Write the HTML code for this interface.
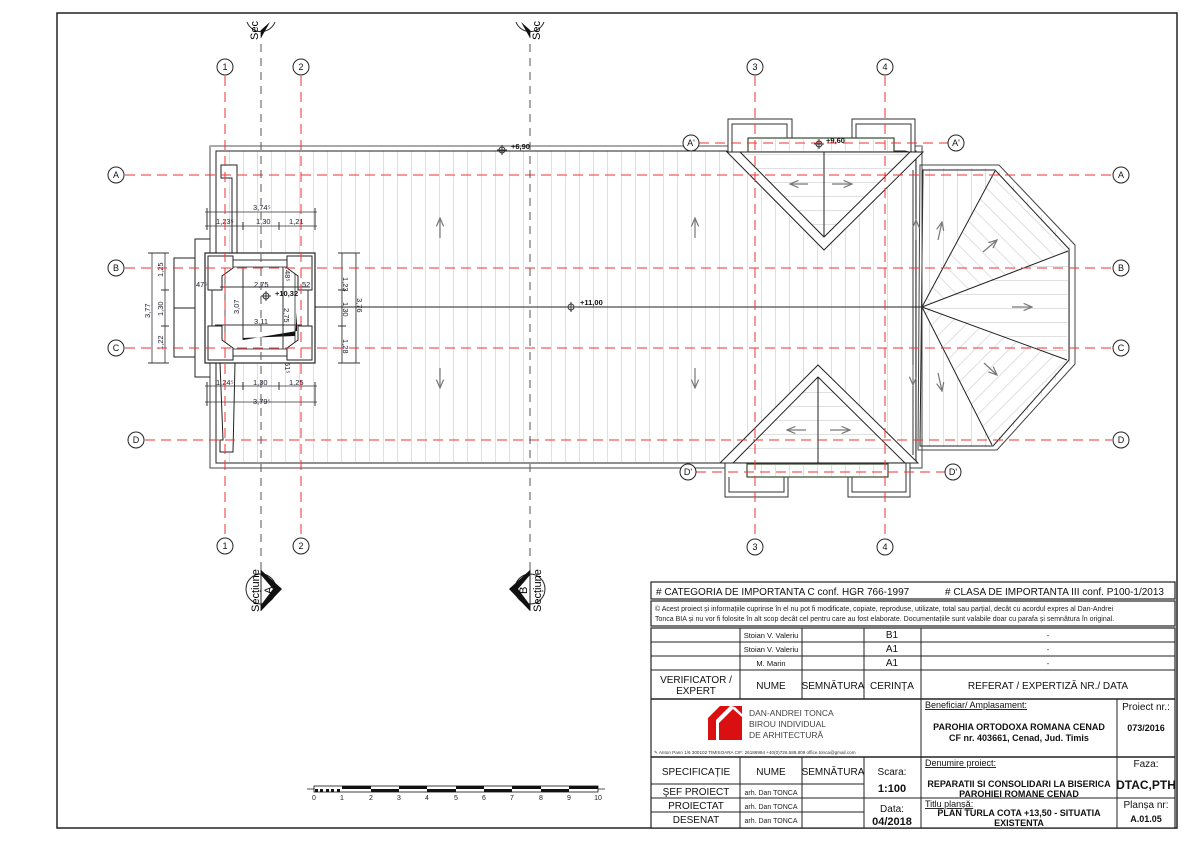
<!DOCTYPE html>
<html><head><meta charset="utf-8"><style>
html,body{margin:0;padding:0;background:#fff}
svg{display:block}
text{font-family:"Liberation Sans",sans-serif}
</style></head><body>
<svg width="1190" height="841" viewBox="0 0 1190 841" xmlns="http://www.w3.org/2000/svg">
<defs>
<pattern id="vh" width="14" height="10" patternUnits="userSpaceOnUse" x="5"><line x1="0.5" y1="0" x2="0.5" y2="10" stroke="#e0e0e0" stroke-width="1"/></pattern>
<pattern id="hh" width="10" height="14" patternUnits="userSpaceOnUse"><line x1="0" y1="0.5" x2="10" y2="0.5" stroke="#e0e0e0" stroke-width="1"/></pattern>
<pattern id="dh" width="12" height="12" patternUnits="userSpaceOnUse" patternTransform="rotate(45)"><line x1="0.5" y1="0" x2="0.5" y2="12" stroke="#e0e0e0" stroke-width="1"/></pattern>
<pattern id="dh2" width="12" height="12" patternUnits="userSpaceOnUse" patternTransform="rotate(-45)"><line x1="0.5" y1="0" x2="0.5" y2="12" stroke="#e0e0e0" stroke-width="1"/></pattern>
<marker id="ar" markerWidth="8" markerHeight="8" refX="7" refY="4" orient="auto"><path d="M0,1 L7,4 L0,7" fill="none" stroke="#777" stroke-width="1"/></marker>
</defs>

<rect x="57" y="13" width="1120" height="815" fill="none" stroke="#222" stroke-width="1.5"/>

<rect x="222" y="151" width="698" height="311" fill="url(#vh)"/>
<polygon points="920,168 997,168 1072,247 1072,362 995,447 920,447" fill="url(#vh)"/>
<polygon points="922,307 995,171 1068,251" fill="#fff"/>
<polygon points="922,307 995,171 1068,251" fill="url(#dh2)"/>
<polygon points="922,307 1067,360 992,445" fill="#fff"/>
<polygon points="922,307 1067,360 992,445" fill="url(#dh)"/>
<polygon points="922,307 1068,251 1067,360" fill="#fff"/>
<polygon points="922,307 1068,251 1067,360" fill="url(#hh)"/>
<polygon points="920,165 999,165 1075,245 1075,364 997,450 918,450" fill="none" stroke="#444" stroke-width="1"/>
<polygon points="923,170 995,170 1069,249 1069,360 993,446 920,446" fill="none" stroke="#222" stroke-width="1"/>
<g stroke="#222" stroke-width="1"><line x1="922" y1="307" x2="995" y2="171"/><line x1="922" y1="307" x2="1068" y2="251"/><line x1="922" y1="307" x2="1067" y2="360"/><line x1="922" y1="307" x2="992" y2="445"/></g>

<rect x="210" y="146" width="712" height="322" fill="none" stroke="#444" stroke-width="1"/>
<rect x="216" y="151" width="700" height="312" fill="none" stroke="#222" stroke-width="1"/>
<line x1="210" y1="146" x2="922" y2="146" stroke="#aaa" stroke-width="2"/>
<line x1="913" y1="170" x2="913" y2="455" stroke="#333" stroke-width="1"/>

<g fill="#fff" stroke="#333" stroke-width="1">
<path d="M728,152 V119 H792 V152" /><path d="M732,152 V124 H787 V138"/>
<path d="M852,138 V119 H915 V152"/><path d="M856,138 V124 H911 V152"/>
<path d="M725,463 V497 H788 V476"/><path d="M729,477 V492 H784 V476"/>
<path d="M848,476 V497 H910 V463"/><path d="M852,477 V492 H906 V463"/>
</g>
<rect x="748" y="138" width="146" height="14" fill="#fff" stroke="#354a2a" stroke-width="1.2"/>
<rect x="747" y="464" width="141" height="13" fill="#fff" stroke="#354a2a" stroke-width="1.2"/>
<rect x="749" y="139" width="144" height="12" fill="url(#vh)"/>
<rect x="748" y="465" width="139" height="11" fill="url(#vh)"/>

<polygon points="727,152 923,152 824,250" fill="#fff" stroke="#222" stroke-width="1"/>
<polygon points="740,152 910,152 824,237" fill="url(#hh)" stroke="#222" stroke-width="1"/>
<line x1="824" y1="152" x2="824" y2="237" stroke="#222"/>
<polygon points="720,463 918,463 818,365" fill="#fff" stroke="#222" stroke-width="1"/>
<polygon points="733,463 905,463 818,377" fill="url(#hh)" stroke="#222" stroke-width="1"/>
<line x1="818" y1="377" x2="818" y2="463" stroke="#222"/>

<line x1="315" y1="307" x2="922" y2="307" stroke="#222" stroke-width="1"/>

<g stroke="#777" stroke-width="1.2" marker-end="url(#ar)">
<line x1="440" y1="238" x2="440" y2="218"/><line x1="440" y1="368" x2="440" y2="388"/>
<line x1="695" y1="238" x2="695" y2="218"/><line x1="695" y1="368" x2="695" y2="388"/>
<line x1="916" y1="240" x2="916" y2="220"/><line x1="913" y1="365" x2="913" y2="385"/>
<line x1="808" y1="184" x2="790" y2="184"/><line x1="832" y1="184" x2="852" y2="184"/>
<line x1="806" y1="430" x2="787" y2="430"/><line x1="830" y1="430" x2="850" y2="430"/>
<line x1="938" y1="240" x2="942" y2="222"/><line x1="983" y1="252" x2="997" y2="240"/>
<line x1="1012" y1="307" x2="1032" y2="307"/><line x1="984" y1="363" x2="997" y2="375"/>
<line x1="938" y1="373" x2="942" y2="391"/>
<line x1="184" y1="290" x2="184" y2="270"/><line x1="184" y1="325" x2="184" y2="345"/>
</g>

<rect x="174" y="258" width="21" height="99" fill="#fff" stroke="#222"/>
<line x1="174" y1="308" x2="195" y2="308" stroke="#222"/>
<path d="M210,239 H195 V377 H210" fill="none" stroke="#222"/>
<path d="M221,165 H237 V253 H232 V178 H221 Z" fill="#fff" stroke="#222"/>
<path d="M220,363 H235 L233,452 H220 V440 H223 Z" fill="#fff" stroke="#222"/>
<rect x="205" y="253" width="110" height="110" fill="#fff" stroke="#222" stroke-width="1.2"/>
<rect x="212" y="260" width="96" height="96" fill="none" stroke="#333"/>
<rect x="225" y="267" width="70" height="82" fill="none" stroke="#555"/>
<g fill="#fff" stroke="#222">
<polygon points="208,256 233,256 233,268 222,276 222,290 208,290"/>
<polygon points="312,256 287,256 287,268 298,276 298,290 312,290"/>
<polygon points="208,360 233,360 233,348 222,340 222,326 208,326"/>
<polygon points="312,360 287,360 287,348 298,340 298,326 312,326"/>
</g>
<polygon points="243,340 297,331 297,312 295,336 243,338" fill="#111"/>
<line x1="243" y1="267" x2="243" y2="340" stroke="#333"/>
<line x1="220" y1="287" x2="310" y2="287" stroke="#333"/>
<line x1="215" y1="325" x2="302" y2="325" stroke="#333"/>
<line x1="283" y1="267" x2="283" y2="349" stroke="#333"/>

<g stroke="#333" stroke-width="0.8">
<line x1="205" y1="212" x2="317" y2="212"/><line x1="205" y1="226" x2="317" y2="226"/>
<line x1="205" y1="386" x2="317" y2="386"/><line x1="205" y1="402" x2="317" y2="402"/>
<line x1="152" y1="253" x2="152" y2="363"/><line x1="165" y1="253" x2="165" y2="363"/>
<line x1="342" y1="253" x2="342" y2="363"/><line x1="356" y1="253" x2="356" y2="363"/>
<g stroke-width="1"><line x1="207" y1="208" x2="207" y2="230"/><line x1="315" y1="208" x2="315" y2="230"/><line x1="243" y1="222" x2="243" y2="230"/><line x1="279" y1="222" x2="279" y2="230"/>
<line x1="207" y1="382" x2="207" y2="406"/><line x1="315" y1="382" x2="315" y2="406"/><line x1="243" y1="382" x2="243" y2="390"/><line x1="279" y1="382" x2="279" y2="390"/>
<line x1="148" y1="253" x2="169" y2="253"/><line x1="148" y1="363" x2="169" y2="363"/><line x1="161" y1="290" x2="169" y2="290"/><line x1="161" y1="326" x2="169" y2="326"/>
<line x1="338" y1="253" x2="360" y2="253"/><line x1="338" y1="363" x2="360" y2="363"/><line x1="338" y1="290" x2="346" y2="290"/><line x1="338" y1="326" x2="346" y2="326"/></g>
</g>
<g font-size="7.5" fill="#223">
<text x="253" y="210">3,74⁵</text><text x="216" y="224">1,23⁵</text><text x="256" y="224">1,30</text><text x="289" y="224">1,21</text>
<text x="216" y="385">1,24⁵</text><text x="253" y="385">1,30</text><text x="289" y="385">1,25</text><text x="253" y="404">3,79⁵</text>
<text x="196" y="287">47⁵</text><text x="254" y="287">2,75</text><text x="302" y="287">52</text><text x="254" y="324">3,11</text>
<text transform="translate(150,318) rotate(-90)">3,77</text>
<text transform="translate(163,277) rotate(-90)">1,25</text><text transform="translate(163,316) rotate(-90)">1,30</text><text transform="translate(163,350) rotate(-90)">1,22</text>
<text transform="translate(343,277) rotate(90)">1,23</text><text transform="translate(343,302) rotate(90)">1,30</text><text transform="translate(343,339) rotate(90)">1,28</text>
<text transform="translate(357,298) rotate(90)">3,76</text>
<text transform="translate(239,314) rotate(-90)">3,07</text><text transform="translate(284,308) rotate(90)">2,75</text>
<text transform="translate(285,270) rotate(90)">48⁵</text><text transform="translate(285,362) rotate(90)">51⁵</text>
</g>

<g stroke="#333" fill="none"><circle cx="266" cy="296" r="3"/><line x1="261" y1="296" x2="271" y2="296"/><line x1="266" y1="291" x2="266" y2="301"/>
<circle cx="502" cy="150" r="3"/><line x1="497" y1="150" x2="507" y2="150"/><line x1="502" y1="145" x2="502" y2="155"/>
<circle cx="571" cy="307" r="3"/><line x1="566" y1="307" x2="576" y2="307"/><line x1="571" y1="302" x2="571" y2="312"/>
<circle cx="819" cy="144" r="3"/><line x1="814" y1="144" x2="824" y2="144"/><line x1="819" y1="139" x2="819" y2="149"/></g>
<g font-size="7.5" font-weight="bold" fill="#111"><text x="275" y="296">+10,32</text><text x="511" y="149">+6,90</text><text x="580" y="305">+11,00</text><text x="826" y="143">+9,60</text></g>

<g stroke="#e33" stroke-width="1" stroke-dasharray="10,6" fill="none">
<line x1="225" y1="76" x2="225" y2="537"/><line x1="301" y1="76" x2="301" y2="537"/>
<line x1="755" y1="76" x2="755" y2="538"/><line x1="885" y1="76" x2="885" y2="538"/>
<line x1="125" y1="175" x2="1112" y2="175"/><line x1="125" y1="268" x2="1112" y2="268"/>
<line x1="125" y1="348" x2="1112" y2="348"/><line x1="145" y1="440" x2="1112" y2="440"/>
<line x1="699" y1="143" x2="950" y2="143"/><line x1="696" y1="472" x2="947" y2="472"/>
</g>
<g stroke="#555" stroke-width="1" stroke-dasharray="8,6"><line x1="261" y1="30" x2="261" y2="575"/><line x1="530" y1="30" x2="530" y2="575"/></g>

<g fill="#fff" stroke="#222" stroke-width="1">
<circle cx="225" cy="67" r="8"/><circle cx="301" cy="67" r="8"/><circle cx="755" cy="67" r="8"/><circle cx="885" cy="67" r="8"/>
<circle cx="225" cy="546" r="8"/><circle cx="301" cy="546" r="8"/><circle cx="755" cy="547" r="8"/><circle cx="885" cy="547" r="8"/>
<circle cx="116" cy="175" r="8"/><circle cx="116" cy="268" r="8"/><circle cx="116" cy="348" r="8"/><circle cx="136" cy="440" r="8"/>
<circle cx="1121" cy="175" r="8"/><circle cx="1121" cy="268" r="8"/><circle cx="1121" cy="348" r="8"/><circle cx="1121" cy="440" r="8"/>
<circle cx="691" cy="143" r="8"/><circle cx="956" cy="143" r="8"/><circle cx="688" cy="472" r="8"/><circle cx="953" cy="472" r="8"/>
</g>
<g font-size="9" text-anchor="middle" fill="#111">
<text x="225" y="70">1</text><text x="301" y="70">2</text><text x="755" y="70">3</text><text x="885" y="70">4</text>
<text x="225" y="549">1</text><text x="301" y="549">2</text><text x="755" y="550">3</text><text x="885" y="550">4</text>
<text x="116" y="178">A</text><text x="116" y="271">B</text><text x="116" y="351">C</text><text x="136" y="443">D</text>
<text x="1121" y="178">A</text><text x="1121" y="271">B</text><text x="1121" y="351">C</text><text x="1121" y="443">D</text>
<text x="691" y="146">A'</text><text x="956" y="146">A'</text><text x="688" y="475">D'</text><text x="953" y="475">D'</text>
</g>

<g stroke="#222" fill="none"><path d="M247,22 A15,15 0 0 0 275,22"/><path d="M516,22 A15,15 0 0 0 544,22"/></g>
<polygon points="261,38 261,30 270,22" fill="#111"/><polygon points="530,38 530,30 521,22" fill="#111"/>
<text transform="translate(258,40) rotate(-90)" font-size="11">Sec</text>
<text transform="translate(540,40) rotate(-90)" font-size="11">Sec</text>
<circle cx="261" cy="589" r="15" fill="#fff" stroke="#222"/>
<line x1="261" y1="570" x2="261" y2="611" stroke="#222"/>
<polygon points="261,570 282,589 261,611 261,605 273,589 261,575" fill="#111"/>
<circle cx="530" cy="589" r="15" fill="#fff" stroke="#222"/>
<line x1="530" y1="570" x2="530" y2="611" stroke="#222"/>
<polygon points="530,570 509,589 530,611 530,605 518,589 530,575" fill="#111"/>
<text transform="translate(259,612) rotate(-90)" font-size="11">Secțiune</text>
<text transform="translate(272,594) rotate(-90)" font-size="11">A</text>
<text transform="translate(527,594) rotate(-90)" font-size="11">B</text>
<text transform="translate(541,612) rotate(-90)" font-size="11">Secțiune</text>

<line x1="307" y1="789" x2="605" y2="789" stroke="#555"/>
<rect x="314" y="786" width="284" height="6" fill="#fff" stroke="#111" stroke-width="0.8"/>
<g fill="#111">
<rect x="342" y="786" width="29" height="3"/><rect x="371" y="789" width="28" height="3"/><rect x="399" y="786" width="28" height="3"/><rect x="427" y="789" width="29" height="3"/><rect x="456" y="786" width="28" height="3"/><rect x="484" y="789" width="28" height="3"/><rect x="512" y="786" width="29" height="3"/><rect x="541" y="789" width="28" height="3"/><rect x="569" y="786" width="29" height="3"/>
<rect x="315" y="789" width="3" height="3"/><rect x="320" y="789" width="3" height="3"/><rect x="326" y="789" width="3" height="3"/><rect x="331" y="789" width="3" height="3"/><rect x="337" y="789" width="3" height="3"/>
</g>
<g font-size="7" text-anchor="middle" fill="#222"><text x="314" y="800">0</text><text x="342" y="800">1</text><text x="371" y="800">2</text><text x="399" y="800">3</text><text x="427" y="800">4</text><text x="456" y="800">5</text><text x="484" y="800">6</text><text x="512" y="800">7</text><text x="541" y="800">8</text><text x="569" y="800">9</text><text x="598" y="800">10</text></g>

<g fill="#fff" stroke="#222" stroke-width="1.2">
<rect x="651" y="582" width="524" height="17"/>
<rect x="651" y="601" width="524" height="25"/>
<rect x="651" y="628" width="524" height="200"/>
</g>
<g stroke="#222" stroke-width="1">
<line x1="651" y1="642" x2="1175" y2="642"/><line x1="651" y1="656" x2="1175" y2="656"/><line x1="651" y1="670" x2="1175" y2="670"/>
<line x1="651" y1="699" x2="1175" y2="699" stroke-width="1.5"/>
<line x1="651" y1="757" x2="1175" y2="757" stroke-width="1.5"/>
<line x1="740" y1="628" x2="740" y2="699"/><line x1="802" y1="628" x2="802" y2="699"/><line x1="864" y1="628" x2="864" y2="699"/><line x1="921" y1="628" x2="921" y2="828"/>
<line x1="740" y1="757" x2="740" y2="828"/><line x1="802" y1="757" x2="802" y2="828"/><line x1="864" y1="757" x2="864" y2="828"/>
<line x1="651" y1="784" x2="864" y2="784"/><line x1="651" y1="798" x2="864" y2="798"/><line x1="651" y1="812" x2="864" y2="812"/>
<line x1="864" y1="798" x2="1175" y2="798"/>
<line x1="1117" y1="699" x2="1117" y2="828"/>
</g>
<g font-size="10" fill="#111">
<text x="656" y="595">#  CATEGORIA DE IMPORTANTA C conf. HGR 766-1997</text>
<text x="945" y="595"># CLASA DE IMPORTANTA III conf. P100-1/2013</text>
</g>
<g font-size="7" fill="#222"><text x="655" y="611">© Acest proiect și informațiile cuprinse în el nu pot fi modificate, copiate, reproduse, utilizate, total sau parțial, decât cu acordul expres al Dan-Andrei</text>
<text x="655" y="621">Tonca BIA și nu vor fi folosite în alt scop decât cel pentru care au fost elaborate. Documentațiile sunt valabile doar cu parafa și semnătura în original.</text></g>
<g font-size="7.5" text-anchor="middle" fill="#111">
<text x="771" y="638">Stoian V. Valeriu</text><text x="771" y="652">Stoian V. Valeriu</text><text x="771" y="666">M. Marin</text>
<text x="1048" y="638">-</text><text x="1048" y="652">-</text><text x="1048" y="666">-</text>
</g>
<g font-size="10" text-anchor="middle" fill="#111">
<text x="892" y="638">B1</text><text x="892" y="652">A1</text><text x="892" y="666">A1</text>
<text x="696" y="683">VERIFICATOR /</text><text x="696" y="694">EXPERT</text>
<text x="771" y="689">NUME</text><text x="833" y="689">SEMNĂTURA</text><text x="892" y="689">CERINȚA</text>
<text x="1048" y="689">REFERAT / EXPERTIZĂ NR./ DATA</text>
<text x="696" y="775">SPECIFICAȚIE</text><text x="771" y="775">NUME</text><text x="833" y="775">SEMNĂTURA</text>
<text x="892" y="775">Scara:</text><text x="892" y="812">Data:</text>
<text x="696" y="795">ŞEF PROIECT</text><text x="696" y="809">PROIECTAT</text><text x="696" y="823">DESENAT</text>
<text x="1146" y="710">Proiect nr.:</text><text x="1146" y="767">Faza:</text><text x="1146" y="808">Planșa nr:</text>
</g>
<g font-size="7" text-anchor="middle" fill="#222"><text x="771" y="795">arh. Dan TONCA</text><text x="771" y="809">arh. Dan TONCA</text><text x="771" y="823">arh. Dan TONCA</text></g>
<g font-size="11" font-weight="bold" text-anchor="middle" fill="#111">
<text x="892" y="792">1:100</text><text x="892" y="825">04/2018</text>
<text x="1146" y="731" font-size="9">073/2016</text>
<text x="1146" y="789" font-size="12">DTAC,PTH</text>
<text x="1146" y="822" font-size="9">A.01.05</text>
<g font-size="9"><text x="1019" y="730">PAROHIA ORTODOXA ROMANA CENAD</text><text x="1019" y="741">CF nr. 403661, Cenad, Jud. Timis</text>
<text x="1019" y="787">REPARATII SI CONSOLIDARI LA BISERICA</text><text x="1019" y="797">PAROHIEI ROMANE CENAD</text>
<text x="1019" y="816">PLAN TURLA COTA +13,50 - SITUATIA</text><text x="1019" y="826">EXISTENTA</text></g>
</g>
<g font-size="9" fill="#111" text-decoration="underline"><text x="925" y="708">Beneficiar/ Amplasament:</text><text x="925" y="766">Denumire proiect:</text><text x="925" y="807">Titlu planșă:</text></g>
<polygon points="708,740 708,718 720,706 730,706 716,720 716,740" fill="#d90f12"/>
<polygon points="719,740 719,723 733,709 742,717 742,740" fill="#d90f12"/>
<polygon points="731,706 742,706 742,714 735,707" fill="#d90f12"/>
<g font-size="8.5" fill="#444"><text x="749" y="716">DAN-ANDREI TONCA</text><text x="749" y="727">BIROU INDIVIDUAL</text><text x="749" y="738">DE ARHITECTURĂ</text></g>
<text x="654" y="754" font-size="4.6" fill="#333">✎ Anton Pann 1/6 300102 TIMISOARA   CIF: 26186994   +40(0)726.589.809    office.tonca@gmail.com</text>
</svg>
</body></html>
